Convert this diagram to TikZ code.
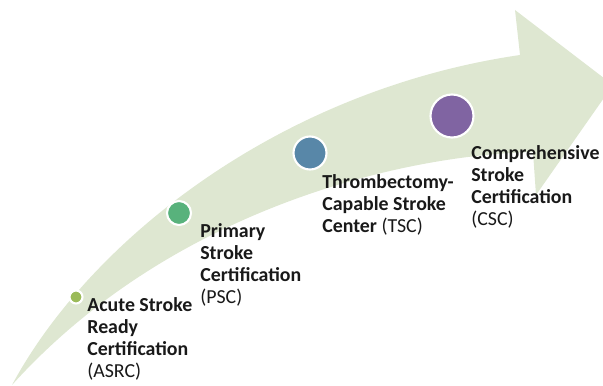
\documentclass[tikz,border=0pt]{standalone}
\usepackage{fontspec}
\setmainfont{Carlito}
\usetikzlibrary{positioning}
\definecolor{band}{RGB}{222,231,209}
\definecolor{olive}{RGB}{155,187,89}
\definecolor{jade}{RGB}{88,178,124}
\definecolor{steel}{RGB}{88,135,168}
\definecolor{plum}{RGB}{128,100,162}

\begin{document}
\begin{tikzpicture}[
  dot/.style={circle, draw=white, line width=1.2pt, inner sep=0pt},
  lbl/.style={anchor=base west, align=left, inner sep=0pt, text=black!90,
    font=\fontsize{11.3}{12.5}\selectfont\bfseries}]
\useasboundingbox (0,0) rectangle (12.06,7.7);
\clip (0,0) rectangle (12.06,7.7);
% curved arrow
\fill[band] (0.24,0) .. controls (1.8,2.9) and (5.6,5.9) .. (10.4,6.6) -- (10.3,7.5) -- (12.26,6.0) -- (10.72,3.8) -- (10.66,4.66) .. controls (8.0,4.6) and (3.4,3.5) .. (0.24,0) -- cycle;
% stages
\node[dot, fill=olive, minimum size=0.26cm] (asrc) at (1.52,1.76) {};
\node[dot, fill=jade, minimum size=0.48cm] (psc) at (3.58,3.44) {};
\node[dot, fill=steel, minimum size=0.66cm] (tsc) at (6.2,4.64) {};
\node[dot, fill=plum, minimum size=0.86cm] (csc) at (9.04,5.38) {};
% labels (anchored at the last line)
\node[lbl] (asrctext) at (1.74,0.16) {Acute Stroke\\Ready\\Certification\\{\mdseries(ASRC)}};
\node[lbl] (psctext) at (4.0,1.64) {Primary\\Stroke\\Certification\\{\mdseries(PSC)}};
\node[lbl] (tsctext) at (6.44,3.06) {Thrombectomy-\\Capable Stroke\\Center {\mdseries(TSC)}};
\node[lbl] (csctext) at (9.42,3.2) {Comprehensive\\Stroke\\Certification\\{\mdseries(CSC)}};
\end{tikzpicture}
\end{document}
